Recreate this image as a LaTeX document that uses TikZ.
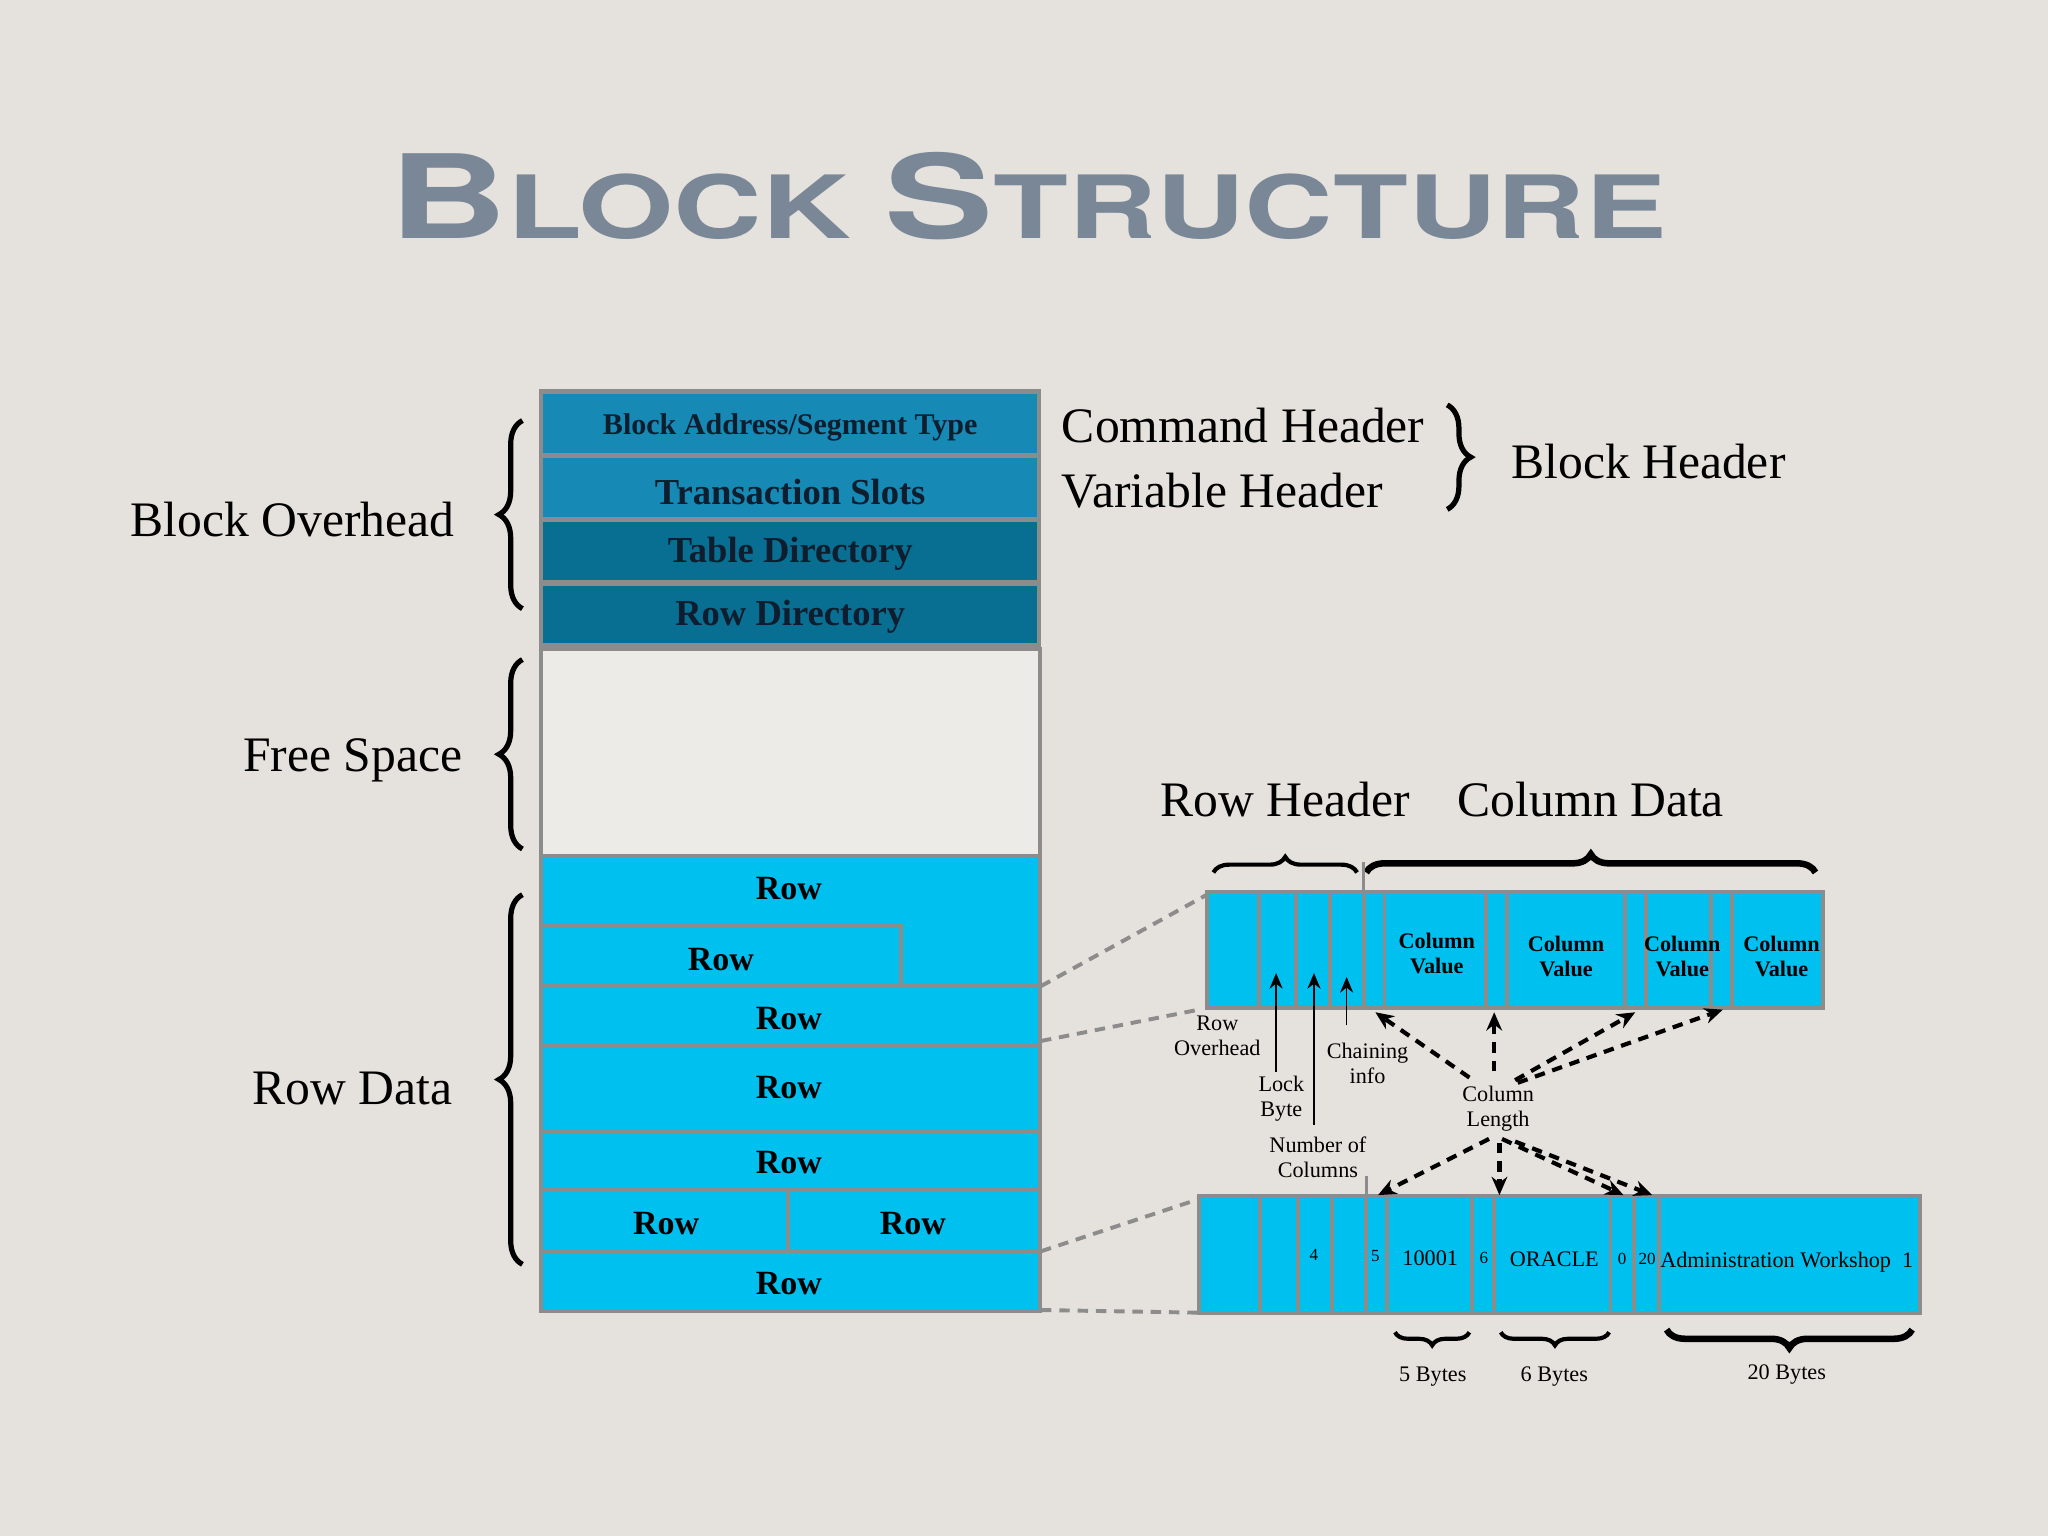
\documentclass[tikz,border=0pt]{standalone}
\usepackage{fontspec}
\setmainfont{Liberation Serif}
\newfontfamily\titlefont{TeX Gyre Heros}
\usetikzlibrary{decorations.pathreplacing,arrows.meta}
\definecolor{bg}{HTML}{E5E2DD}
\definecolor{cy}{HTML}{00C0F0}
\definecolor{hd1}{HTML}{1689B4}
\definecolor{hd2}{HTML}{086E92}
\definecolor{gr}{HTML}{8C8C8C}
\definecolor{ttl}{HTML}{7A8797}
\definecolor{navy}{HTML}{0F1E2E}
\begin{document}
\begin{tikzpicture}[x=0.5pt,y=-0.5pt,
  lab/.style={font=\fontsize{19}{21}\selectfont},
  hdr/.style={font=\bfseries\fontsize{14}{16}\selectfont,text=navy},
  rowt/.style={font=\bfseries\fontsize{13}{15}\selectfont},
  sm/.style={font=\fontsize{8.5}{9.5}\selectfont,align=center,inner sep=0pt},
  smb/.style={font=\bfseries\fontsize{8.5}{9.5}\selectfont,align=center,inner sep=0pt},
  cell/.style={fill=cy,draw=gr,line width=1.5pt},
  lbrace/.style={decorate,decoration={brace,amplitude=9pt},line width=2pt},
  sbrace/.style={decorate,decoration={brace,amplitude=5pt},line width=1.6pt},
  zoomln/.style={gr,dashed,line width=1.5pt,dash pattern=on 4pt off 3pt},
  dar/.style={-{Stealth[length=7pt,width=6pt]},line width=1.6pt,dash pattern=on 4pt off 3pt},
  sar/.style={-{Stealth[length=6pt,width=5pt]},line width=0.6pt}]
\fill[bg] (0,0) rectangle (1568,1176);
\useasboundingbox (0,0) rectangle (1568,1176);
% title
\node[text=ttl,inner sep=0pt] (title) at (787,150) {\resizebox{489pt}{33pt}{\titlefont\bfseries\fontsize{40}{40}\selectfont B\fontsize{30}{30}\selectfont LOCK \fontsize{40}{40}\selectfont S\fontsize{30}{30}\selectfont TRUCTURE}};
% header boxes
\fill[gr] (413,298) rectangle (797,496);
\fill[hd1] (416,302) rectangle (794,347);
\fill[hd1] (416,351) rectangle (794,396);
\fill[hd2] (416,400) rectangle (794,444);
\fill[hd2] (416,449) rectangle (794,492);
\node[hdr,font=\bfseries\fontsize{11.5}{13}\selectfont] (bas) at (605,327) {Block Address/Segment Type};
\node[hdr] (ts) at (605,377) {Transaction Slots};
\node[hdr] (td) at (605,424) {Table Directory};
\node[hdr] (rd) at (605,472) {Row Directory};
% free space
\draw[gr,fill=bg!70!white,line width=1.5pt] (414,497) rectangle (796,655);
% rows
\draw[cell] (414,655) rectangle (796,1004);
\draw[gr,line width=1.5pt] (414,708) -- (690,708) -- (690,755);
\foreach \y in {755,801,866,911,958} \draw[gr,line width=1.5pt] (414,\y) -- (796,\y);
\draw[gr,line width=1.5pt] (603,911) -- (603,958);
\node[rowt] (r1) at (604,680) {Row};
\node[rowt] (r2) at (552,735) {Row};
\node[rowt] (r3) at (604,780) {Row};
\node[rowt] (r4) at (604,833) {Row};
\node[rowt] (r5) at (604,890) {Row};
\node[rowt] (r6a) at (510,937) {Row};
\node[rowt] (r6b) at (699,937) {Row};
\node[rowt] (r7) at (604,983) {Row};
% left labels and braces
\node[lab] (bo) at (224,398) {Block Overhead};
\node[lab] (fs) at (270,582) {Free Space};
\node[lab] (rdl) at (270,833) {Row Data};
\draw[lbrace] (400,466) -- (400,322);
\draw[lbrace] (400,650) -- (400,505);
\draw[lbrace] (400,968) -- (400,685);
% right header labels
\node[lab,anchor=west] (ch) at (806,326) {Command Header};
\node[lab,anchor=west] (vh) at (806,376) {Variable Header};
\draw[lbrace] (1108,310) -- (1108,390);
\node[lab,anchor=west] (bh) at (1150,353) {Block Header};
\node[lab] (rh) at (984,612) {Row Header};
\node[lab] (cd) at (1218,612) {Column Data};
\draw[sbrace,decoration={amplitude=6pt}] (929,668) -- (1039,668);
\draw[sbrace,line width=2.5pt,decoration={amplitude=7pt}] (1046,668) -- (1390,668);
% top detail row
\draw[cell] (924,683) rectangle (1396,772);
\foreach \x in {964,992,1018,1044,1060,1138,1154,1244,1260,1310,1326} \draw[gr,line width=1.5pt] (\x,683) -- (\x,772);
\draw[gr,line width=1.2pt] (1044,660) -- (1044,683);
\node[smb] (cv1) at (1100,730) {Column\\Value};
\node[smb] (cv2) at (1199,732) {Column\\Value};
\node[smb] (cv3) at (1288,732) {Column\\Value};
\node[smb] (cv4) at (1364,732) {Column\\Value};
% bottom detail row
\draw[cell] (918,916) rectangle (1470,1005);
\foreach \x in {965,994,1020,1046,1062,1127,1144,1233,1251,1270} \draw[gr,line width=1.5pt] (\x,916) -- (\x,1005);
\draw[gr,line width=1.2pt] (1046,900) -- (1046,916);
\node[sm,font=\fontsize{6.5}{7}\selectfont] (v4) at (1006,961) {4};
\node[sm,font=\fontsize{6.5}{7}\selectfont] (v5) at (1053,962) {5};
\node[sm] (v10001) at (1095,963) {10001};
\node[sm,font=\fontsize{6.5}{7}\selectfont] (v6) at (1136,963) {6};
\node[sm] (vor) at (1190,964) {ORACLE};
\node[sm,font=\fontsize{6.5}{7}\selectfont] (v0) at (1242,964) {0};
\node[sm,font=\fontsize{6.5}{7}\selectfont] (v20) at (1261,964) {20};
\node[sm] (vaw) at (1368,966) {Administration Workshop\ \ 1};
% zoom lines
\coordinate (za) at (797,755); \coordinate (zb) at (924,685);
\coordinate (zc) at (797,797); \coordinate (zd) at (918,773);
\coordinate (ze) at (797,958); \coordinate (zf) at (918,918);
\coordinate (zg) at (797,1003); \coordinate (zh) at (918,1005);
\draw[zoomln] (za) -- (zb); \draw[zoomln] (zc) -- (zd);
\draw[zoomln] (ze) -- (zf); \draw[zoomln] (zg) -- (zh);
% labels
\node[sm] (ro) at (932,793) {Row\\Overhead};
\node[sm] (lb) at (981,841) {Lock\\Byte};
\node[sm] (nc) at (1009,886) {Number of\\Columns};
\node[sm] (ci) at (1047,814) {Chaining\\info};
\node[sm] (cl) at (1147,849) {Column\\Length};
\coordinate (la) at (977,821); \coordinate (lat) at (977,745);
\coordinate (na) at (1006,861); \coordinate (nat) at (1006,745);
\coordinate (ca) at (1031,785); \coordinate (cat) at (1031,748);
\draw[sar] (la) -- (lat);
\draw[sar] (na) -- (nat);
\draw[sar] (ca) -- (cat);
% dashed arrows
\coordinate (t1) at (1053,775); \coordinate (t2) at (1144,775);
\coordinate (t3) at (1252,775); \coordinate (t4) at (1319,773);
\coordinate (b1) at (1055,915); \coordinate (b2) at (1148,915);
\coordinate (b3) at (1243,915); \coordinate (b4) at (1265,915);
\draw[dar] (1125,825) -- (t1);
\draw[dar] (1144,820) -- (t2);
\draw[dar] (1160,827) -- (t3);
\draw[dar] (1162,829) -- (t4);
\draw[dar] (1140,872) -- (b1);
\draw[dar] (1148,875) -- (b2);
\draw[dar] (1150,872) -- (b3);
\draw[dar] (1160,874) -- (b4);
% byte braces
\draw[sbrace,decoration={amplitude=5pt}] (1125,1020) -- (1068,1020);
\draw[sbrace,decoration={amplitude=5pt}] (1232,1020) -- (1149,1020);
\draw[sbrace,line width=2.5pt,decoration={amplitude=7pt}] (1464,1018) -- (1276,1018);
\node[sm] (b5) at (1097,1054) {5 Bytes};
\node[sm] (b6) at (1190,1054) {6 Bytes};
\node[sm] (b20) at (1368,1052) {20 Bytes};
\end{tikzpicture}
\end{document}
